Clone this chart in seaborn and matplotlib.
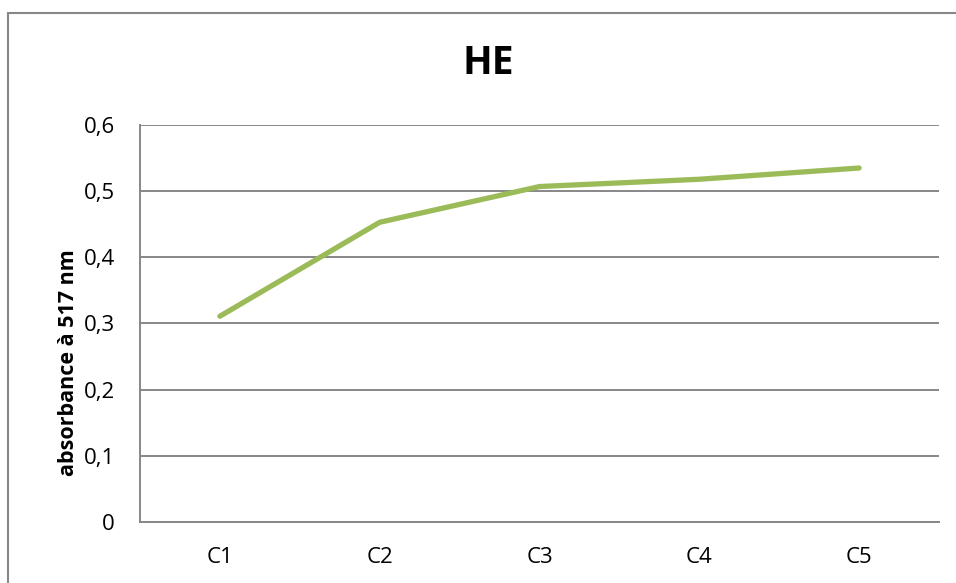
import matplotlib
matplotlib.use("Agg")
import matplotlib.pyplot as plt
from matplotlib.ticker import FuncFormatter, MultipleLocator
from matplotlib.patches import Rectangle
import seaborn as sns
import pandas as pd

# Sample series and measured absorbance (517 nm)
samples = ["C1", "C2", "C3", "C4", "C5"]
absorbance = [0.311, 0.453, 0.507, 0.518, 0.535]
title = "HE"
y_label = "absorbance à 517 nm"

df = pd.DataFrame({"sample": samples, "absorbance": absorbance})

sns.set_theme(style="white")
plt.rcParams["font.family"] = ["Open Sans", "DejaVu Sans"]
plt.rcParams["text.color"] = "black"

W, H = 956, 583
fig = plt.figure(figsize=(W / 100, H / 100), dpi=100)
ax = fig.add_axes([140 / W, 1 - 522 / H, (939 - 140) / W, (522 - 125) / H])

grey = "#878787"
sns.lineplot(data=df, x="sample", y="absorbance", ax=ax, color="#9BBB59",
             linewidth=3.8, solid_capstyle="round", solid_joinstyle="round",
             zorder=3)

ax.set_xlim(-0.5, len(samples) - 0.5)
ax.set_ylim(0, 0.6)
ax.yaxis.set_major_locator(MultipleLocator(0.1))
ax.yaxis.set_major_formatter(FuncFormatter(
    lambda v, _: "0" if abs(v) < 1e-9 else f"{v:.1f}".replace(".", ",")))
ax.grid(axis="y", color=grey, linewidth=1.4)
ax.set_axisbelow(True)

for side in ("top", "right"):
    ax.spines[side].set_visible(False)
for side in ("left", "bottom"):
    ax.spines[side].set_color(grey)
    ax.spines[side].set_linewidth(1.4)

ax.tick_params(axis="both", length=0, labelsize=16, colors="black")
ax.tick_params(axis="y", pad=18)
ax.tick_params(axis="x", pad=18)
ax.set_xlabel("")
ax.set_ylabel("")

fig.text(68 / W, 1 - 363 / H, y_label, rotation=90, ha="center", va="center",
         fontsize=15.5, fontweight="bold", color="black")
fig.text(488 / W, 1 - 63 / H, title, ha="center", va="center",
         fontsize=28, fontweight="bold", color="black")

# Chart frame
fig.patches.append(Rectangle((7.5 / W, -0.05), 1.2, 1 - 13 / H + 0.05,
                             transform=fig.transFigure, fill=False,
                             edgecolor=grey, linewidth=1.5))

fig.savefig("out.png", dpi=100)
